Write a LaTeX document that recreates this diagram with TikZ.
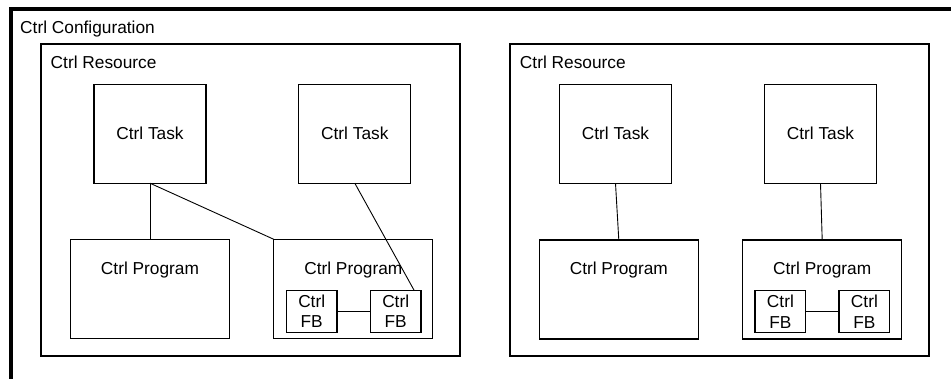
\documentclass[tikz,border=0pt]{standalone}
\usepackage{fontspec}
\setmainfont{Liberation Sans}
\begin{document}
\begin{tikzpicture}
[x=1pt,y=-1pt,
  confBox/.style={draw,line width=3.5pt,anchor=north west,minimum width=1000pt,minimum height=420pt,inner sep=0pt,outer sep=0pt},%
  resBox/.style={draw,line width=2.4pt,minimum width=419pt,minimum height=312pt,inner sep=0pt,outer sep=0pt},%
  taskBox/.style={draw,line width=1.3pt,minimum width=112pt,minimum height=99pt,inner sep=0pt,outer sep=0pt},%
  progBox/.style={draw,line width=1.3pt,minimum width=159pt,minimum height=99pt,inner sep=0pt,outer sep=0pt},%
  fbBox/.style={draw,line width=1.3pt,minimum width=50.7pt,minimum height=42pt,inner sep=0pt,outer sep=0pt,align=center},%
  boxLabel/.style={anchor=base west,inner sep=0pt},%
  link/.style={line width=0.9pt},%
  font=\fontsize{17.3}{20.7}\selectfont]
\useasboundingbox (0,0) rectangle (951,378);
\clip (0,0) rectangle (951,378);
%% configuration frame, cut off at the page edge
\node[confBox] (conf) at (11,9) {};
\node[boxLabel] (conf-name) at ([xshift=9pt,yshift=-24pt]conf.north west) {Ctrl Configuration};
%% resources
\foreach \nodename/\x/\y in {resL/250.5/200, resR/719.75/200.25}
{
  \node[resBox] (\nodename) at (\x,\y) {};
  \node[boxLabel] (\nodename-name) at ([xshift=9.5pt,yshift=-24.5pt]\nodename.north west) {Ctrl Resource};
}
%% tasks
\foreach \nodename/\x in {taskA/150, taskB/354.8, taskC/615.5, taskD/820.5}
{
  \node[taskBox] (\nodename) at (\x,133.7) {Ctrl Task};
}
%% programs
\foreach \nodename/\x/\y in {progA/150/288.7, progB/353.3/288.8, progC/618.8/289.5, progD/822.2/289.5}
{
  \node[progBox] (\nodename) at (\x,\y) {};
  \node[anchor=base,inner sep=0pt] (\nodename-name) at ([yshift=-34.8pt]\nodename.north) {Ctrl Program};
}
%% function blocks
\foreach \nodename/\x/\y in {fbA/311.7/311.2, fbB/395.7/311.2, fbC/780.4/311.5, fbD/864.4/311.5}
{
  \node[fbBox] (\nodename) at (\x,\y) {Ctrl\\FB};
}
%% connectors
\path
\foreach \startnode/\endnode in {taskA.south/progA.north, taskA.south/progB.north west,
  taskC.south/progC.north, taskD.south/progD.north, fbA/fbB, fbC/fbD}
{
  (\startnode) edge[link] (\endnode)
}
(taskB.south) edge[link] ([xshift=-7pt]fbB.north east);
\end{tikzpicture}
\end{document}
